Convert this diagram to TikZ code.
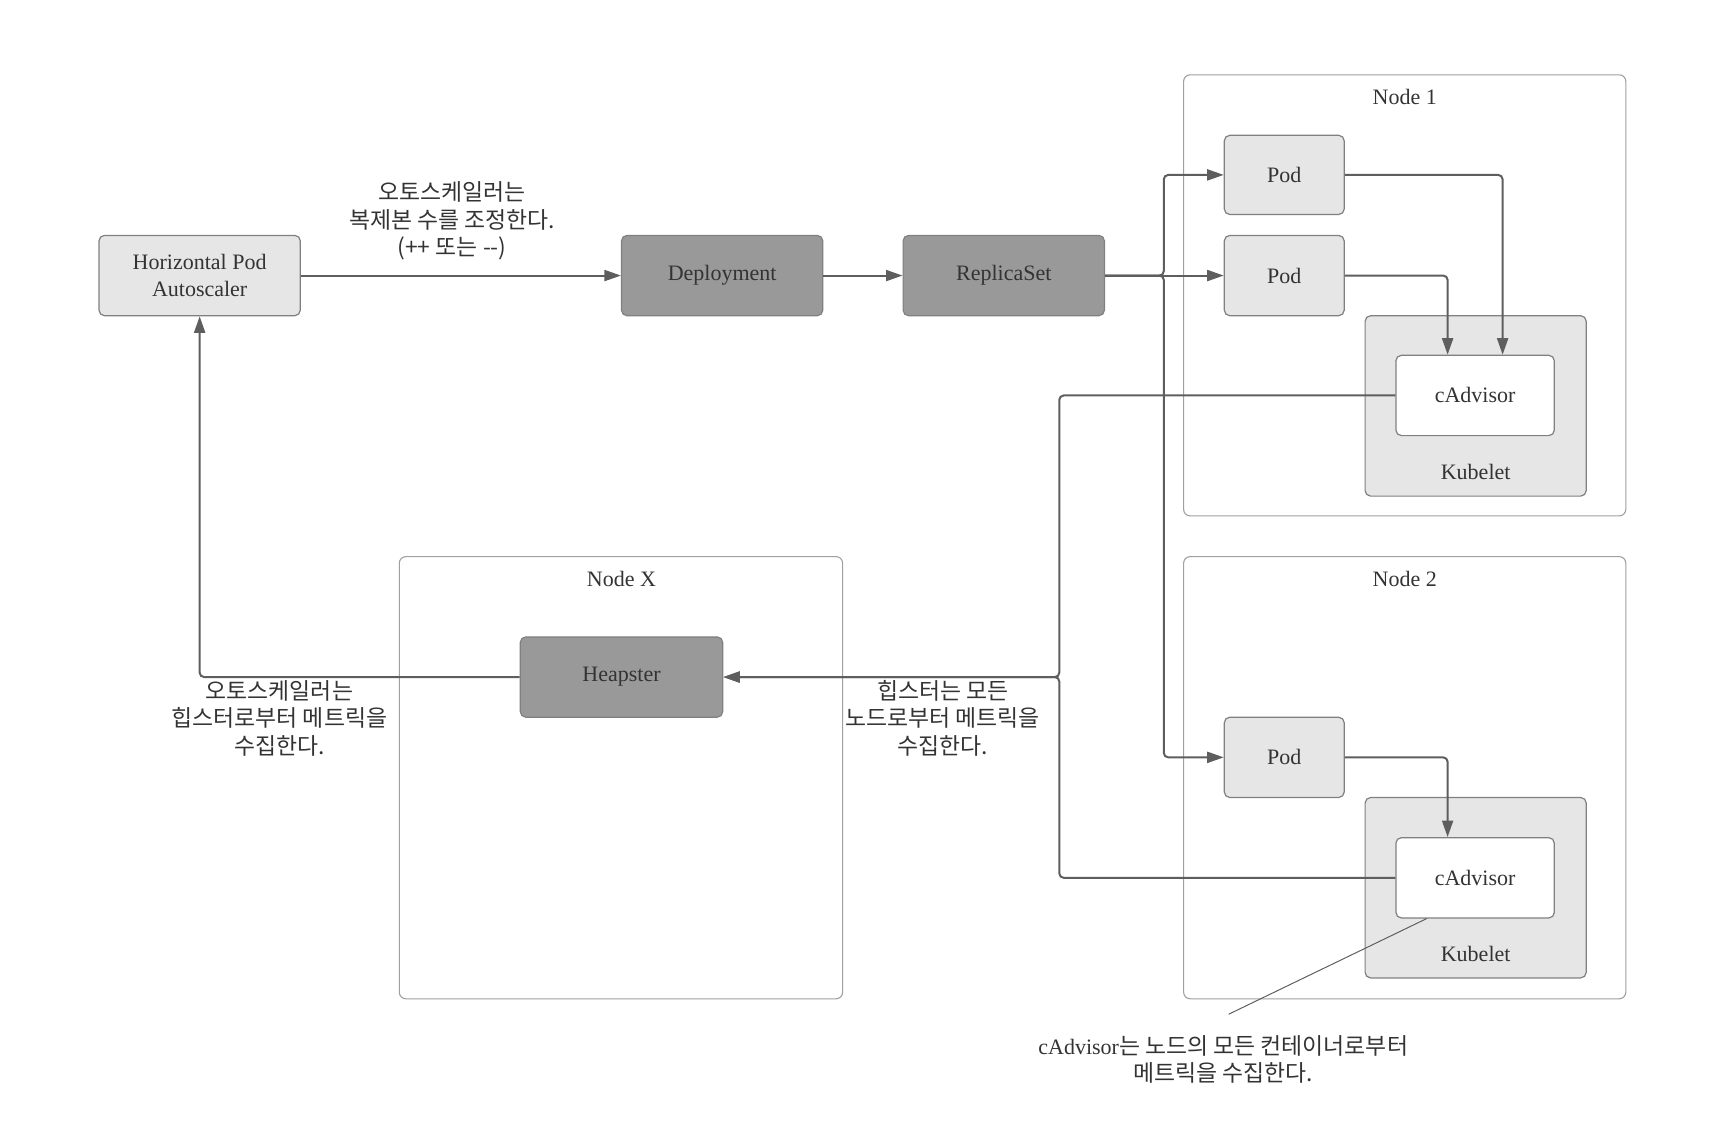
\documentclass[tikz,border=0pt]{standalone}
\usepackage{fontspec}
\setmainfont{Liberation Serif}
\newfontfamily\kr{Noto Sans CJK KR}
\usetikzlibrary{arrows.meta}
\definecolor{lightfill}{HTML}{E6E6E6}
\definecolor{darkfill}{HTML}{999999}
\definecolor{boxline}{HTML}{808080}
\definecolor{contline}{HTML}{A0A0A0}
\definecolor{connc}{HTML}{5E5E5E}
\definecolor{txt}{HTML}{333333}
\begin{document}
\begin{tikzpicture}[x=1pt,y=-1pt,
  every node/.style={text=txt, font=\fontsize{20}{24}\selectfont},
  base/.style={draw=boxline, line width=1.1pt, rounded corners=5pt, inner sep=0pt, align=center},
  lightbox/.style={base, fill=lightfill},
  darkbox/.style={base, fill=darkfill},
  whitebox/.style={base, fill=white},
  container/.style={draw=contline, line width=1pt, rounded corners=6pt, inner sep=0pt},
  conn/.style={draw=connc, line width=1.8pt, rounded corners=4pt},
  arr/.style={conn, -{Triangle[length=15pt,width=10pt]}},
  note/.style={draw=connc, line width=0.9pt},
  krlabel/.style={font=\kr\fontsize{20.8}{25}\selectfont, align=center, text=txt},
]
\useasboundingbox (0,0) rectangle (1560,1031);

% containers
\node[container, minimum width=402pt, minimum height=401pt] (n1) at (1277,268.5) {};
\node (n1l) at (1277,88) {Node 1};
\node[container, minimum width=402pt, minimum height=402pt] (n2) at (1277,707) {};
\node (n2l) at (1277,526) {Node 2};
\node[container, minimum width=403pt, minimum height=402pt] (nx) at (564.5,707) {};
\node (nxl) at (565,526) {Node X};

% main boxes
\node[lightbox, minimum width=183pt, minimum height=73pt] (hpa) at (181.5,250.5) {Horizontal Pod\\Autoscaler};
\node[darkbox, minimum width=183pt, minimum height=73pt] (dep) at (656.5,250.5) {Deployment};
\node[darkbox, minimum width=183pt, minimum height=73pt] (rs) at (912.5,250.5) {ReplicaSet};
\node[darkbox, minimum width=184pt, minimum height=73pt] (hp) at (565,615.5) {Heapster};

% node 1
\node[lightbox, minimum width=109pt, minimum height=72pt] (p1) at (1167.5,159) {Pod};
\node[lightbox, minimum width=109pt, minimum height=73pt] (p2) at (1167.5,250.5) {Pod};
\node[lightbox, minimum width=201pt, minimum height=164pt] (k1) at (1341.5,369) {};
\node (k1l) at (1341.5,429) {Kubelet};
\node[whitebox, minimum width=144pt, minimum height=73pt] (c1) at (1341,359.5) {cAdvisor};

% node 2
\node[lightbox, minimum width=109pt, minimum height=73pt] (p3) at (1167.5,688.5) {Pod};
\node[lightbox, minimum width=201pt, minimum height=164pt] (k2) at (1341.5,807) {};
\node (k2l) at (1341.5,867) {Kubelet};
\node[whitebox, minimum width=144pt, minimum height=73pt] (c2) at (1341,798) {cAdvisor};

% connectors
\coordinate (br) at (1058,250.5);
\coordinate (hj) at (963,615.5);
\draw[arr] (hpa.east) -- (dep.west);
\draw[arr] (dep.east) -- (rs.west);
\draw[arr] (rs.east) -- (br) |- (p1.west);
\draw[arr] (rs.east) -- (p2.west);
\draw[arr] (rs.east) -- (br) |- (p3.west);
\draw[arr] (p1.east) -| ([xshift=25pt]c1.north);
\draw[arr] (p2.east) -| ([xshift=-25pt]c1.north);
\draw[arr] (p3.east) -| ([xshift=-25pt]c2.north);
\draw[arr] (c1.west) -| (hj) -- (hp.east);
\draw[arr] (c2.west) -| (hj) -- (hp.east);
\draw[arr] (hp.west) -| (hpa.south);

% annotation
\coordinate (ae) at (1117,922);
\draw[note] ([xshift=-44pt]c2.south) -- (ae);

% labels
\node[krlabel] (l1) at (411,201) {오토스케일러는\\복제본 수를 조정한다.\\(++ 또는 -{}-)};
\node[krlabel] (l2) at (254,653) {오토스케일러는\\힙스터로부터 메트릭을\\수집한다.};
\node[krlabel] (l3) at (857,653) {힙스터는 모든\\노드로부터 메트릭을\\수집한다.};
\node[krlabel] (l4) at (1112,963) {{\rmfamily\fontsize{20}{25}\selectfont cAdvisor}는 노드의 모든 컨테이너로부터\\메트릭을 수집한다.};
\end{tikzpicture}
\end{document}
